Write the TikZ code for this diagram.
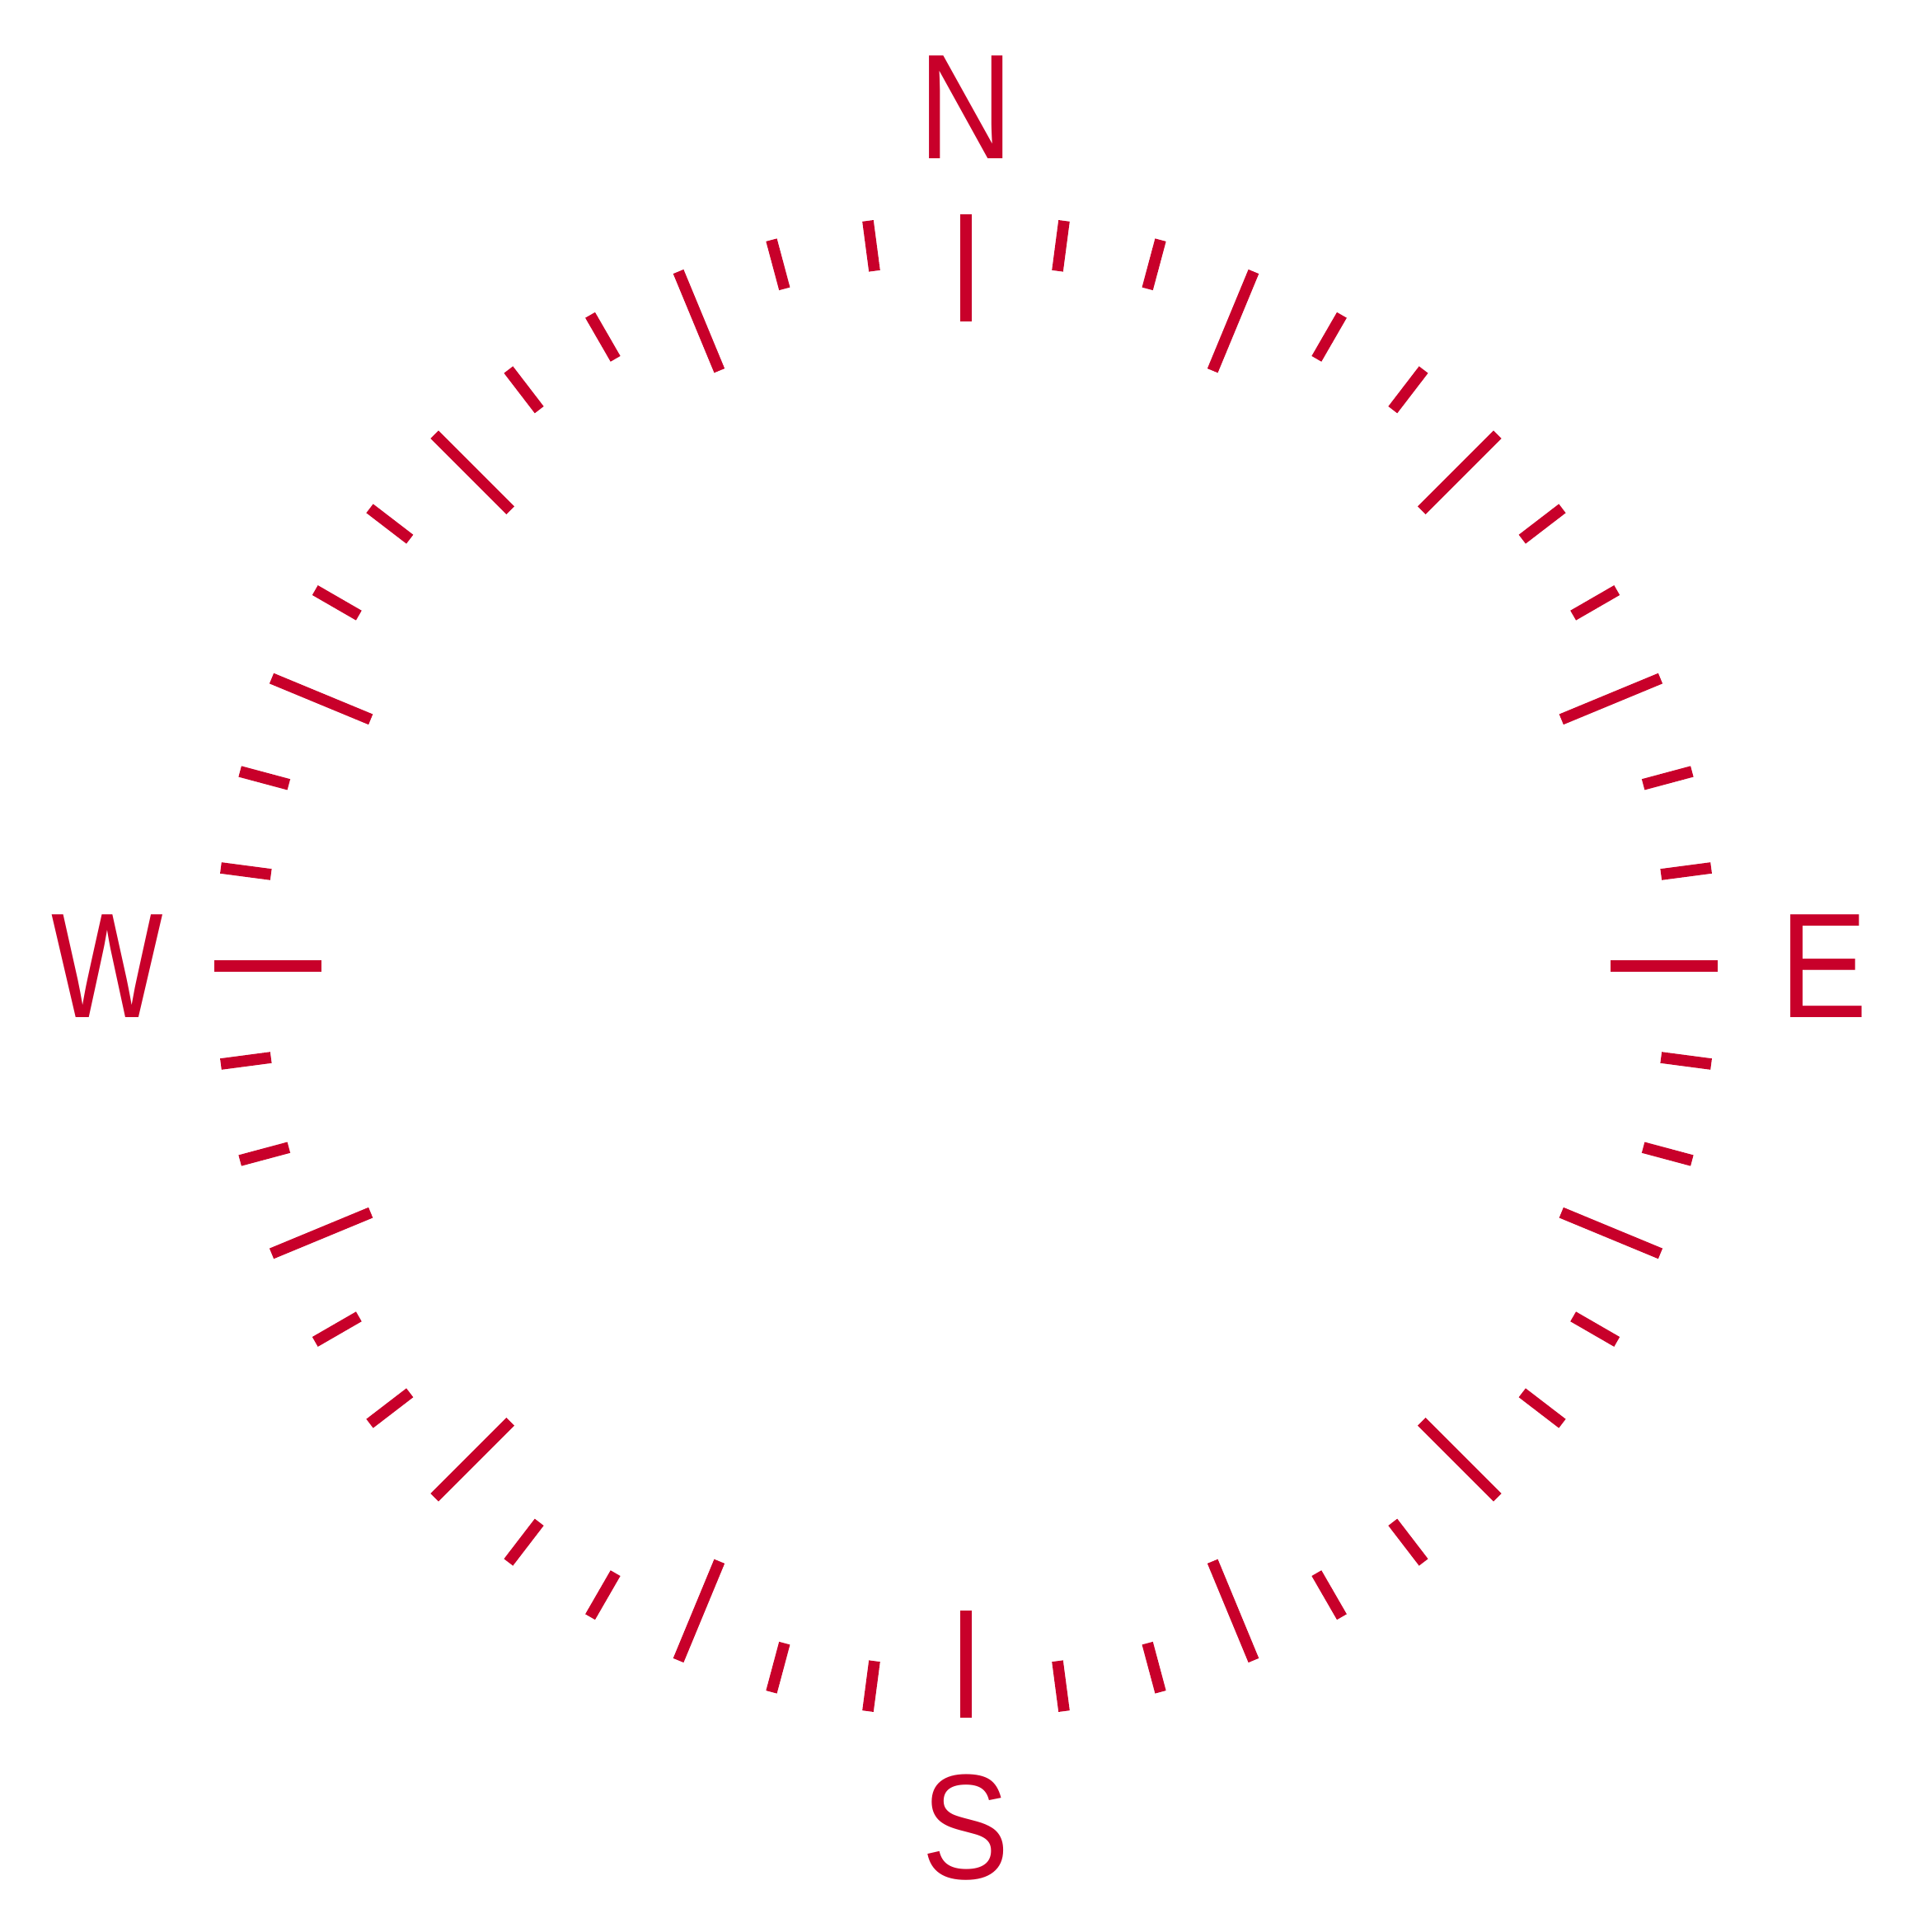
\documentclass[tikz,border=0pt]{standalone}
\usepackage{fontspec}
\setsansfont{Liberation Sans}
\definecolor{compassred}{RGB}{200,0,42}

\begin{document}
\begin{tikzpicture}[
  tick/.style={draw=compassred, line width=2.6pt},
  dirlabel/.style={text=compassred, inner sep=0pt, xscale=0.88,
    font=\sffamily\fontsize{34.5}{34.5}\selectfont}
]
\useasboundingbox (-7.84,-7.84) rectangle (7.84,7.84);

% ticks every 7.5 degrees, long ones every 22.5
\foreach \i in {0,...,47} {
  \pgfmathsetmacro\ang{90-\i*7.5}
  \pgfmathtruncatemacro\rem{mod(\i,3)}
  \ifnum\rem=0
    \draw[tick] (\ang:5.23) -- (\ang:6.10);
  \else
    \draw[tick] (\ang:5.69) -- (\ang:6.10);
  \fi
}

\node[dirlabel] (north) at (0,6.97) {N};
\node[dirlabel] (east) at (6.96,0) {E};
\node[dirlabel] (south) at (0,-6.99) {S};
\node[dirlabel, xscale=0.9] (west) at (-6.97,0) {W};

\end{tikzpicture}
\end{document}
